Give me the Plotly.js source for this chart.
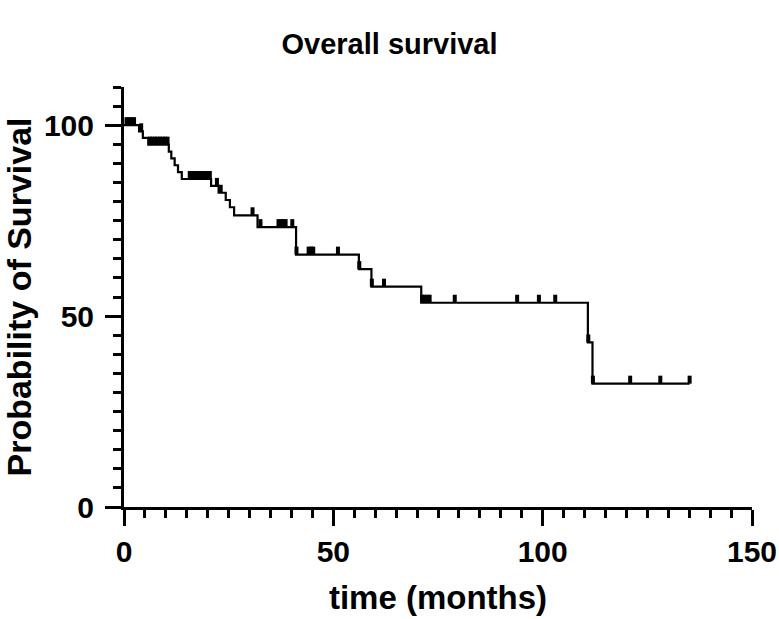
<!DOCTYPE html>
<html>
<head>
<meta charset="utf-8">
<script src="https://cdn.plot.ly/plotly-3.0.1.min.js"></script>
<style>
html,body{margin:0;padding:0;background:#fff;}
#chart{width:779px;height:619px;}
</style>
</head>
<body>
<div id="chart"></div>
<script>
// Kaplan-Meier step curve: time of each drop (months) and survival (%) after it
const eventTimes = [0, 3.6, 4.5, 5.8, 10.7, 11.3, 12.1, 12.9, 13.8, 20.8, 22.6, 24.3, 25.3, 26.3, 31.9, 41.1, 56.1, 59.1, 71.0, 110.8, 111.9];
const survival   = [100, 98.4, 96.7, 94.9, 93.1, 91.3, 89.5, 87.7, 85.9, 84.1, 82.3, 80.4, 78.5, 76.4, 73.3, 66.1, 62.3, 57.7, 53.5, 43.1, 32.3];
const lastFollowUp = 135.1;
// censored observations (months)
const censorTimes = [0.6, 1.2, 1.8, 2.4, 4.1, 6.2, 6.8, 7.4, 8.0, 8.6, 9.2, 9.8, 10.4, 15.7, 16.3, 16.9, 17.5, 18.1, 18.7, 19.3, 19.9, 20.5, 22.2, 23.1, 30.7, 32.6, 36.9, 37.5, 38.1, 38.6, 40.2, 41.2, 44.1, 44.7, 45.2, 51.1, 56.2, 59.2, 62.1, 71.2, 71.8, 72.4, 73.0, 79.0, 93.9, 99.1, 103.0, 110.9, 112.0, 120.9, 128.1, 135.1];

const xTickVals = [0, 50, 100, 150];
const yTickVals = [0, 50, 100];

const FONT = '"Liberation Sans", Arial, sans-serif';
const W = 779, H = 619;
const M = {l: 124, r: 27, t: 87, b: 112};
const Y_MAX = 110;
const plotH = H - M.t - M.b;
const pxPerUnit = plotH / Y_MAX;
const censorTickPx = 8;

function survivalAt(t) {
  let s = survival[0];
  for (let i = 0; i < eventTimes.length; i++) {
    if (eventTimes[i] <= t) s = survival[i];
  }
  return s;
}

const curveX = eventTimes.concat([lastFollowUp]);
const curveY = survival.concat([survival[survival.length - 1]]);
const censorY = censorTimes.map(t => survivalAt(t) + (censorTickPx / 2) / pxPerUnit);

const traces = [
  {
    x: curveX, y: curveY, type: 'scatter', mode: 'lines',
    line: {shape: 'hv', color: '#000', width: 2.2},
    hoverinfo: 'skip', cliponaxis: false
  },
  {
    x: censorTimes, y: censorY, type: 'scatter', mode: 'markers',
    marker: {symbol: 'line-ns', size: censorTickPx / 1.4, line: {color: '#000', width: 4}},
    hoverinfo: 'skip', cliponaxis: false
  }
];

const axisCommon = {
  showline: true, linewidth: 3, linecolor: '#000',
  ticks: 'outside', ticklen: 16, tickwidth: 3, tickcolor: '#000',
  showgrid: false, zeroline: false, fixedrange: true,
  tickfont: {family: FONT, size: 30, weight: 'bold', color: '#000'},
  minor: {ticks: 'outside', dtick: 5, ticklen: 8, tickwidth: 3, tickcolor: '#000', showgrid: false}
};

const layout = {
  width: W, height: H,
  margin: M,
  paper_bgcolor: '#fff', plot_bgcolor: '#fff',
  showlegend: false,
  title: {
    text: 'Overall survival',
    font: {family: FONT, size: 29, weight: 'bold', color: '#000'},
    xref: 'container', x: 0.5, xanchor: 'center',
    yref: 'container', y: 1 - 44 / H, yanchor: 'middle'
  },
  xaxis: Object.assign({}, axisCommon, {
    range: [0, 150], tickmode: 'array', tickvals: xTickVals, ticktext: xTickVals.map(String),
    title: {text: 'time (months)', font: {family: FONT, size: 33, weight: 'bold', color: '#000'}, standoff: 19}
  }),
  yaxis: Object.assign({}, axisCommon, {
    range: [0, Y_MAX], tickmode: 'array', tickvals: yTickVals, ticktext: yTickVals.map(String),
    ticklabelstandoff: 5,
    title: {text: 'Probability of Survival', font: {family: FONT, size: 34, weight: 'bold', color: '#000'}, standoff: 4}
  })
};

Plotly.newPlot('chart', traces, layout, {staticPlot: true, displayModeBar: false});
</script>
</body>
</html>
